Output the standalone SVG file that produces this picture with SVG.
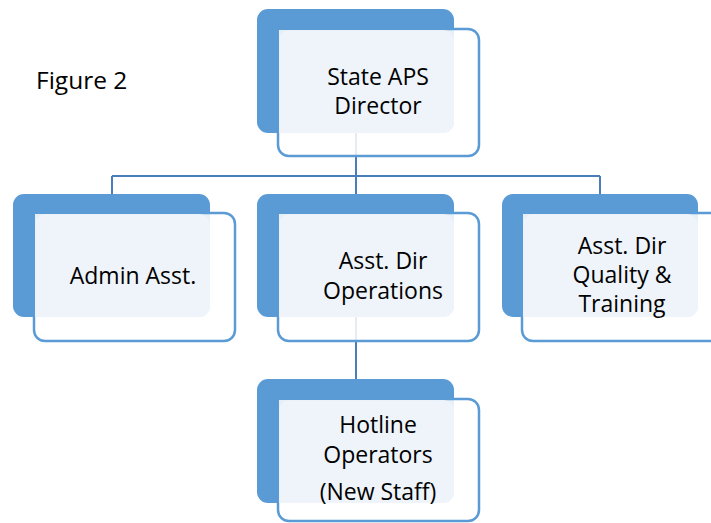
<svg xmlns="http://www.w3.org/2000/svg" width="711" height="523" viewBox="0 0 711 523">
<style>
.back{fill:#5B9BD5}
.front{fill:#ffffff;fill-opacity:0.85;stroke:#5B9BD5;stroke-width:2.5}
.light{fill:#EEF3FA;fill-opacity:0.95}
.lbl{font-family:"Open Sans","Liberation Sans",sans-serif;font-size:23px;fill:#000;text-anchor:middle}
.conn{stroke:#4A7EBB;stroke-width:2;fill:none}
</style>
<rect width="711" height="523" fill="#fff"/>
<text x="36" y="89" style="font-family:'Open Sans','Liberation Sans',sans-serif;font-size:24.5px;fill:#000">Figure 2</text>
<g id="connectors">
<path class="conn" d="M356 133V176M112 176H600M112 176V195M356 176V195M600 176V195M356 317V380"/>
</g>
<g id="director">
<rect class="back" x="257" y="9" width="197" height="124" rx="11"/>
<rect class="front" x="278" y="29" width="201" height="127" rx="11"/>
<path class="light" d="M279 30H443A11 11 0 0 1 454 41V122A11 11 0 0 1 443 133H279Z"/>
<text class="lbl" x="378" y="85">State APS</text>
<text class="lbl" x="378" y="114">Director</text>
</g>
<g id="admin">
<rect class="back" x="13" y="194" width="197" height="123" rx="11"/>
<rect class="front" x="34" y="213" width="201" height="128" rx="11"/>
<path class="light" d="M35 214H199A11 11 0 0 1 210 225V306A11 11 0 0 1 199 317H35Z"/>
<text class="lbl" x="133" y="284">Admin Asst.</text>
</g>
<g id="operations">
<rect class="back" x="257" y="194" width="197" height="123" rx="11"/>
<rect class="front" x="278" y="213" width="201" height="128" rx="11"/>
<path class="light" d="M279 214H443A11 11 0 0 1 454 225V306A11 11 0 0 1 443 317H279Z"/>
<text class="lbl" x="383" y="269">Asst. Dir</text>
<text class="lbl" x="383" y="299">Operations</text>
</g>
<g id="quality">
<rect class="back" x="502" y="194" width="196" height="123" rx="11"/>
<rect class="front" x="522" y="213" width="201" height="128" rx="11"/>
<path class="light" d="M523 214H687A11 11 0 0 1 698 225V306A11 11 0 0 1 687 317H523Z"/>
<text class="lbl" x="622" y="254">Asst. Dir</text>
<text class="lbl" x="622" y="283">Quality &amp;</text>
<text class="lbl" x="622" y="312">Training</text>
</g>
<g id="hotline">
<rect class="back" x="257" y="379" width="197" height="124" rx="11"/>
<rect class="front" x="278" y="399" width="201" height="122" rx="11"/>
<path class="light" d="M279 400H443A11 11 0 0 1 454 411V492A11 11 0 0 1 443 503H279Z"/>
<text class="lbl" x="378" y="433">Hotline</text>
<text class="lbl" x="378" y="463">Operators</text>
<text class="lbl" x="378" y="500">(New Staff)</text>
</g>
</svg>
